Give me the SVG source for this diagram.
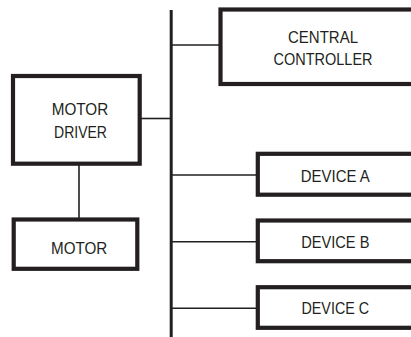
<svg xmlns="http://www.w3.org/2000/svg" width="411" height="337" viewBox="0 0 411 337">
<style>
.box{fill:#fff;stroke:#231f20;stroke-width:4.2}
.conn{stroke:#231f20;stroke-width:1.6;fill:none}
.bus{stroke:#231f20;stroke-width:3;fill:none}
text{font-family:"Liberation Sans",Arial,sans-serif;font-size:17px;fill:#231f20;text-anchor:middle}
</style>
<rect width="411" height="337" fill="#fff"/>
<g id="connectors">
<line class="bus" x1="171.2" y1="10" x2="171.2" y2="337"/>
<line class="conn" x1="171" y1="45" x2="220" y2="45"/>
<line class="conn" x1="140" y1="118.5" x2="171" y2="118.5"/>
<line class="conn" x1="79" y1="164" x2="79" y2="219"/>
<line class="conn" x1="171" y1="175" x2="258" y2="175"/>
<line class="conn" x1="171" y1="241.7" x2="258" y2="241.7"/>
<line class="conn" x1="171" y1="308.3" x2="258" y2="308.3"/>
</g>
<g id="central-controller">
<rect class="box" x="220.5" y="9.5" width="200" height="74.5"/>
<text x="323" y="43.3" textLength="70" lengthAdjust="spacingAndGlyphs">CENTRAL</text>
<text x="323" y="65" textLength="99" lengthAdjust="spacingAndGlyphs">CONTROLLER</text>
</g>
<g id="motor-driver">
<rect class="box" x="13" y="76" width="126.7" height="87.7"/>
<text x="80" y="115" textLength="56.5" lengthAdjust="spacingAndGlyphs">MOTOR</text>
<text x="80.5" y="138" textLength="53" lengthAdjust="spacingAndGlyphs">DRIVER</text>
</g>
<g id="motor">
<rect class="box" x="13.7" y="219.5" width="123.6" height="49.3"/>
<text x="79.2" y="254.3" textLength="56.3" lengthAdjust="spacingAndGlyphs">MOTOR</text>
</g>
<g id="device-a">
<rect class="box" x="257.8" y="153.8" width="160" height="40.9"/>
<text x="335.3" y="181.7" textLength="69" lengthAdjust="spacingAndGlyphs">DEVICE A</text>
</g>
<g id="device-b">
<rect class="box" x="257.8" y="220.5" width="160" height="40.7"/>
<text x="335.3" y="247.7" textLength="68.3" lengthAdjust="spacingAndGlyphs">DEVICE B</text>
</g>
<g id="device-c">
<rect class="box" x="257.8" y="287.2" width="160" height="40.6"/>
<text x="335.3" y="314.3" textLength="67.7" lengthAdjust="spacingAndGlyphs">DEVICE C</text>
</g>
</svg>
